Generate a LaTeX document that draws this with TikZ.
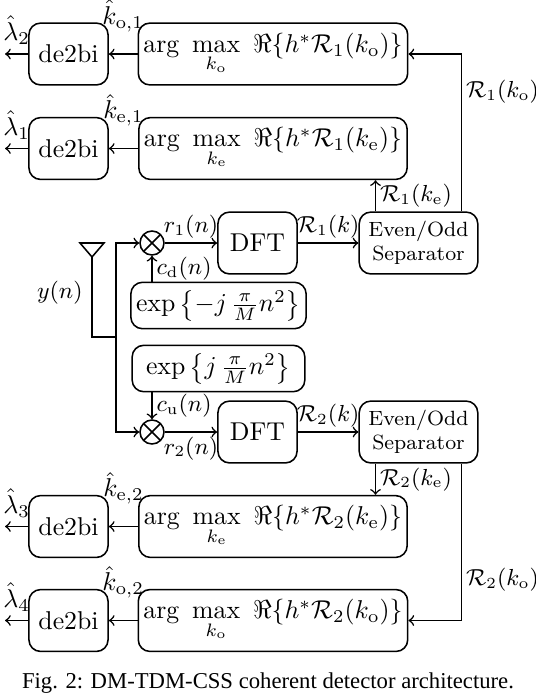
\documentclass[tikz,border=0pt]{standalone}
\usepackage{amsmath}
\usepackage{fontspec}
\newfontfamily\capfont{Liberation Serif}
\usetikzlibrary{positioning,calc}

\tikzset{
	block/.style={draw, semithick, rounded corners=4.5pt, minimum height=24pt, align=center, inner sep=2pt},
	decbox/.style={block, minimum width=30.7pt},
	maxbox/.style={block, minimum width=104pt},
	dftbox/.style={block, minimum width=30.7pt},
	sepbox/.style={block, minimum width=46pt, font=\footnotesize},
	chirpbox/.style={block, minimum width=67pt, minimum height=18pt},
	mixer/.style={circle, draw, semithick, minimum size=9.3pt, inner sep=0pt,
		path picture={\draw[semithick]
			(path picture bounding box.north west) -- (path picture bounding box.south east)
			(path picture bounding box.north east) -- (path picture bounding box.south west);}},
	link/.style={->, semithick},
	siglabel/.style={font=\small, inner sep=1.5pt}
}

\begin{document}
\begin{tikzpicture}[x=0.388pt, y=-0.388pt]
			
			\useasboundingbox (0,0) rectangle (536,694);
			
			% ---------------------------------------------------------
			% RECEIVER FRONT END
			% ---------------------------------------------------------
			
			\coordinate (ant) at (92,257);
			\coordinate (bus) at (116,337);
			\draw[semithick] (ant) -- ++(-12,-14) -- ++(24,0) -- cycle;
			
			\node[mixer] (mixA) at (152,243) {};
			\node[mixer] (mixB) at (152,432) {};
			
			\node[
			chirpbox
			]
			(chirpD) at (218.5,305.5)
			{$\exp\left\{-j\,\frac{\pi}{M}n^2\right\}$};
			
			\node[
			chirpbox
			]
			(chirpU) at (218.5,368.5)
			{$\exp\left\{j\,\frac{\pi}{M}n^2\right\}$};
			
			\node[dftbox] (dftA) at (257.5,243) {DFT};
			\node[dftbox] (dftB) at (257.5,432) {DFT};
			
			\node[sepbox] (sepA) at (418.5,243) {Even/Odd\\Separator};
			\node[sepbox] (sepB) at (418.5,432) {Even/Odd\\Separator};
			
			% ---------------------------------------------------------
			% UPPER DETECTORS
			% ---------------------------------------------------------
			
			\node[
			maxbox
			]
			(maxO1) at (273,54)
			{$\arg\ \max\limits_{k_\mathrm{o}}\ \Re\{h^*\mathcal{R}_1(k_\mathrm{o})\}$};
			
			\node[
			maxbox
			]
			(maxE1) at (273,148.5)
			{$\arg\ \max\limits_{k_\mathrm{e}}\ \Re\{h^*\mathcal{R}_1(k_\mathrm{e})\}$};
			
			\node[decbox] (decO1) at (68.5,54) {de2bi};
			\node[decbox] (decE1) at (68.5,148.5) {de2bi};
			
			% ---------------------------------------------------------
			% LOWER DETECTORS
			% ---------------------------------------------------------
			
			\node[
			maxbox
			]
			(maxE2) at (273,526.5)
			{$\arg\ \max\limits_{k_\mathrm{e}}\ \Re\{h^*\mathcal{R}_2(k_\mathrm{e})\}$};
			
			\node[
			maxbox
			]
			(maxO2) at (273,620.5)
			{$\arg\ \max\limits_{k_\mathrm{o}}\ \Re\{h^*\mathcal{R}_2(k_\mathrm{o})\}$};
			
			\node[decbox] (decE2) at (68.5,526.5) {de2bi};
			\node[decbox] (decO2) at (68.5,620.5) {de2bi};
			
			% free ends and taps
			\coordinate (outO1) at (5,54);
			\coordinate (outE1) at (5,148.5);
			\coordinate (outE2) at (5,526.5);
			\coordinate (outO2) at (5,620.5);
			\coordinate (tapEA) at ([shift={(-43,0)}]sepA.north);
			\coordinate (tapOA) at ([shift={(43,0)}]sepA.north);
			\coordinate (tapEB) at ([shift={(-43,0)}]sepB.south);
			\coordinate (tapOB) at ([shift={(43,0)}]sepB.south);
			
			% ---------------------------------------------------------
			% ARROWS
			% ---------------------------------------------------------
			
			\draw[semithick]
			(ant) |- node[pos=0.22, left, font=\small]{$y(n)$} (bus);
			
			\draw[link] (bus) |- (mixA);
			\draw[link] (bus) |- (mixB);
			
			\draw[link]
			(chirpD.north -| mixA) -- node[siglabel, right]{$c_\mathrm{d}(n)$} (mixA);
			
			\draw[link]
			(chirpU.south -| mixB) -- node[siglabel, right]{$c_\mathrm{u}(n)$} (mixB);
			
			\draw[link]
			(mixA) -- node[siglabel, above]{$r_1(n)$} (dftA);
			
			\draw[link]
			(mixB) -- node[siglabel, below]{$r_2(n)$} (dftB);
			
			\draw[link]
			(dftA) -- node[siglabel, above]{$\mathcal{R}_1(k)$} (sepA);
			
			\draw[link]
			(dftB) -- node[siglabel, above]{$\mathcal{R}_2(k)$} (sepB);
			
			\draw[link]
			(tapOA) |- node[siglabel, pos=0.38, right]{$\mathcal{R}_1(k_\mathrm{o})$} (maxO1);
			
			\draw[link]
			(tapEA) -- node[siglabel, right]{$\mathcal{R}_1(k_\mathrm{e})$} (tapEA |- maxE1.south);
			
			\draw[link]
			(tapEB) -- node[siglabel, right]{$\mathcal{R}_2(k_\mathrm{e})$} (tapEB |- maxE2.north);
			
			\draw[link]
			(tapOB) |- node[siglabel, pos=0.37, right]{$\mathcal{R}_2(k_\mathrm{o})$} (maxO2);
			
			\draw[link]
			(maxO1) -- node[above=5pt]{$\hat{k}_{\mathrm{o},1}$} (decO1);
			
			\draw[link]
			(maxE1) -- node[above=5pt]{$\hat{k}_{\mathrm{e},1}$} (decE1);
			
			\draw[link]
			(maxE2) -- node[above=5pt]{$\hat{k}_{\mathrm{e},2}$} (decE2);
			
			\draw[link]
			(maxO2) -- node[above=5pt]{$\hat{k}_{\mathrm{o},2}$} (decO2);
			
			\draw[link]
			(decO1) -- node[above]{$\hat{\lambda}_2$} (outO1);
			
			\draw[link]
			(decE1) -- node[above]{$\hat{\lambda}_1$} (outE1);
			
			\draw[link]
			(decE2) -- node[above]{$\hat{\lambda}_3$} (outE2);
			
			\draw[link]
			(decO2) -- node[above]{$\hat{\lambda}_4$} (outO2);
			
			% ---------------------------------------------------------
			% CAPTION
			% ---------------------------------------------------------
			
			\node[
			font=\capfont\fontsize{8.8}{10}\selectfont
			]
			(caption) at (268,683)
			{Fig. 2: DM-TDM-CSS coherent detector architecture.};
			
\end{tikzpicture}
\end{document}
